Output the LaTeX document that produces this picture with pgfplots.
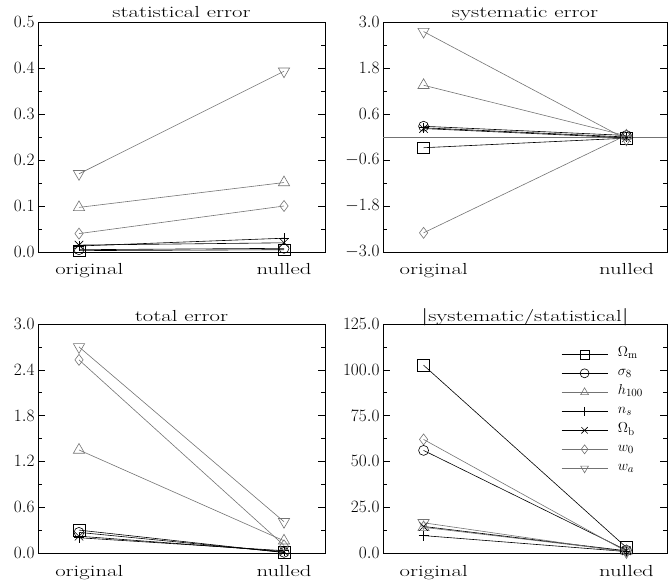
\documentclass[border=0pt]{standalone}
\usepackage{graphicx}
\usepackage{pgfplots}
\pgfplotsset{compat=1.18}
\newcommand{\wide}[1]{\scalebox{1.42}[1]{#1}}
\newcommand{\ttl}[1]{\fontsize{16}{19}\selectfont\wide{#1}}
\newcommand{\legfont}[1]{\fontsize{15}{17}\selectfont #1}
\begin{document}
\begin{tikzpicture}
\path[use as bounding box] (0,0) rectangle (668pt,584pt);
\pgfplotsset{
  base/.style={
    scale only axis, anchor=south west, clip=false,
    xmin=-0.2, xmax=1.2, xtick={0.05,1},
    xticklabels={\ttl{original},\ttl{nulled}},
    major x tick style={draw=none},
    x tick label style={yshift=-8pt},
    minor y tick num=1, tick align=inside, ytick pos=both,
    yticklabel style={/pgf/number format/fixed, /pgf/number format/zerofill, /pgf/number format/precision=1, /tikz/font=\fontsize{17}{20}\selectfont},
    major tick length=7pt, minor tick length=4pt,
    axis line style={line width=0.6pt},
    every tick/.style={black, line width=0.6pt},
  },
  sOm/.style={black, line width=0.6pt, mark=square, mark size=5.8pt, mark options={solid}},
  sS8/.style={black, line width=0.6pt, mark=o, mark size=5pt, mark options={solid}},
  sH/.style={black!55, line width=0.6pt, mark=triangle, mark size=6.5pt, mark options={solid}},
  sNs/.style={black, line width=0.6pt, mark=+, mark size=5pt, mark options={solid}},
  sOb/.style={black, line width=0.6pt, mark=x, mark size=6pt, mark options={solid}},
  sW0/.style={black!55, line width=0.6pt, mark=diamond, mark size=5.5pt, mark options={solid}},
  sWa/.style={black!55, line width=0.6pt, mark=triangle, mark size=6.5pt, mark options={solid, rotate=180}},
}
% statistical error
\begin{axis}[base, at={(38pt,332pt)}, width=287pt, height=230pt,
  ymin=0, ymax=0.5, ytick={0,0.1,0.2,0.3,0.4,0.5}]
\addplot[sOm] coordinates {(0,0.003) (1,0.005)};
\addplot[sS8] coordinates {(0,0.005) (1,0.008)};
\addplot[sH]  coordinates {(0,0.097) (1,0.151)};
\addplot[sNs] coordinates {(0,0.013) (1,0.030)};
\addplot[sOb] coordinates {(0,0.015) (1,0.020)};
\addplot[sW0] coordinates {(0,0.040) (1,0.100)};
\addplot[sWa] coordinates {(0,0.170) (1,0.393)};
\node[anchor=base, inner sep=0pt, yshift=4pt] at (rel axis cs:0.5,1) {\ttl{statistical error}};
\end{axis}
% systematic error
\begin{axis}[base, at={(383pt,332pt)}, width=284pt, height=230pt,
  ymin=-3, ymax=3, ytick={-3,-1.8,-0.6,0.6,1.8,3}]
\addplot[black!55, line width=0.8pt, forget plot] coordinates {(-0.2,0) (1.2,0)};
\addplot[sOm] coordinates {(0,-0.28) (1,-0.03)};
\addplot[sS8] coordinates {(0,0.28) (1,0.04)};
\addplot[sH]  coordinates {(0,1.35) (1,0.03)};
\addplot[sNs] coordinates {(0,0.24) (1,0.00)};
\addplot[sOb] coordinates {(0,0.22) (1,-0.02)};
\addplot[sW0] coordinates {(0,-2.50) (1,0.05)};
\addplot[sWa] coordinates {(0,2.75) (1,-0.06)};
\node[anchor=base, inner sep=0pt, yshift=4pt] at (rel axis cs:0.5,1) {\ttl{systematic error}};
\end{axis}
% total error
\begin{axis}[base, at={(38pt,31pt)}, width=287pt, height=229pt,
  x tick label style={yshift=-1pt},
  ymin=0, ymax=3, ytick={0,0.6,1.2,1.8,2.4,3.0}]
\addplot[sOm] coordinates {(0,0.30) (1,0.006)};
\addplot[sS8] coordinates {(0,0.27) (1,0.009)};
\addplot[sH]  coordinates {(0,1.35) (1,0.16)};
\addplot[sNs] coordinates {(0,0.20) (1,0.03)};
\addplot[sOb] coordinates {(0,0.22) (1,0.02)};
\addplot[sW0] coordinates {(0,2.53) (1,0.10)};
\addplot[sWa] coordinates {(0,2.70) (1,0.41)};
\node[anchor=base, inner sep=0pt, yshift=3pt] at (rel axis cs:0.5,1) {\ttl{total error}};
\end{axis}
% ratio
\begin{axis}[base, at={(383pt,31pt)}, width=284pt, height=229pt,
  x tick label style={yshift=-1pt},
  ymin=0, ymax=125, ytick={0,25,50,75,100,125},
  legend style={draw=none, fill=none, at={(0.93,0.91)}, anchor=north east,
    row sep=4pt,
    nodes={inner sep=1pt, text height=9pt, text depth=4pt},
    /tikz/every odd column/.append style={column sep=9pt}},
  legend cell align=left,
  legend image code/.code={\draw[mark repeat=2, mark phase=2, mark size=4.5pt] plot coordinates {(0pt,0pt) (23pt,0pt) (46pt,0pt)};}]
\addplot[sOm] coordinates {(0,102.5) (1,3.0)};
\addplot[sS8] coordinates {(0,56.0) (1,1.5)};
\addplot[sH]  coordinates {(0,14.0) (1,1.0)};
\addplot[sNs] coordinates {(0,9.5) (1,0.8)};
\addplot[sOb] coordinates {(0,14.5) (1,1.2)};
\addplot[sW0] coordinates {(0,62.0) (1,0.8)};
\addplot[sWa] coordinates {(0,16.5) (1,0.5)};
\legend{\legfont{$\Omega_{\rm m}$},\legfont{$\sigma_8$},\legfont{$h_{100}$},\legfont{$n_s$},\legfont{$\Omega_{\rm b}$},\legfont{$w_0$},\legfont{$w_a$}}
\node[anchor=base, inner sep=0pt, yshift=3pt] at (rel axis cs:0.5,1) {\ttl{$|$systematic/statistical$|$}};
\end{axis}
\end{tikzpicture}
\end{document}
